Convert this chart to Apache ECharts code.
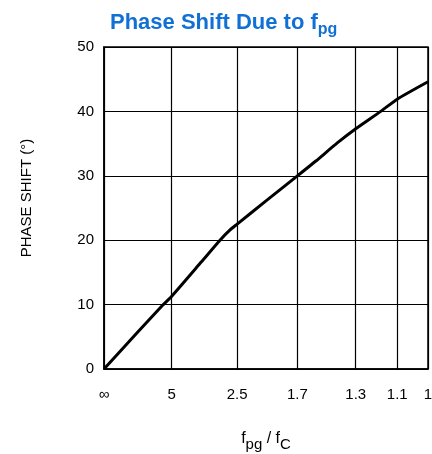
<!DOCTYPE html>
<html><head><meta charset="utf-8">
<script src="https://cdn.jsdelivr.net/npm/echarts@6/dist/echarts.min.js"></script>
<style>html,body{margin:0;padding:0;background:#fff}#c{width:432px;height:454px}</style>
</head><body><div id="c"></div>
<script>
// fC/fpg ratio positions of the x ticks (as drawn) and their printed labels (fpg/fC)
const tickPositions = [0, 0.209, 0.411, 0.597, 0.777, 0.905, 1];
const tickLabels = ['∞', '5', '2.5', '1.7', '1.3', '1.1', '1'];
// curve (x = position on the fC/fpg scale, y = phase shift in degrees)
const curveX = [0, 0.1, 0.183, 0.209, 0.3, 0.358, 0.389, 0.411, 0.5, 0.597, 0.654, 0.72, 0.777, 0.854, 0.905, 1];
const curveY = [0, 5.5, 10, 11.3, 16.6, 20, 21.6, 22.5, 26.1, 30, 32.3, 35.1, 37.3, 40, 41.9, 44.6];

const chart = echarts.init(document.getElementById('c'));
const font = 'Liberation Sans, Arial, sans-serif';
chart.setOption({
  animation: false,
  title: {
    text: '{t|Phase Shift Due to f}{s|pg}',
    left: 105, top: 3,
    textStyle: {
      rich: {
        t: {fontSize: 22, fontWeight: 'bold', color: '#1170d4', fontFamily: font},
        s: {fontSize: 16, fontWeight: 'bold', color: '#1170d4', fontFamily: font, verticalAlign: 'bottom', padding: [14, 0, 0, 0]}
      }
    }
  },
  grid: {left: 104, right: 4, top: 47, bottom: 85, outerBoundsMode: 'none', containLabel: false, show: true, borderColor: '#000', borderWidth: 1.5, backgroundColor: '#fff'},
  xAxis: {
    type: 'value', min: 0, max: 1,
    axisLine: {show: true, lineStyle: {color: '#000', width: 1.5}},
    axisTick: {show: false, customValues: tickPositions},
    splitLine: {show: true, lineStyle: {color: '#000', width: 1.2}},
    axisLabel: {
      customValues: tickPositions, margin: 18,
      color: '#000', fontSize: 15, fontFamily: font,
      formatter: function (v) {
        let best = 0;
        tickPositions.forEach((p, i) => { if (Math.abs(p - v) < Math.abs(tickPositions[best] - v)) best = i; });
        return tickLabels[best];
      }
    },
    name: '{f|f}{s|pg}{f| / f}{s|C}', nameLocation: 'middle', nameGap: 56,
    nameTextStyle: {
      rich: {
        f: {fontSize: 16, color: '#000', fontFamily: font},
        s: {fontSize: 15, color: '#000', fontFamily: font, verticalAlign: 'bottom', padding: [12, 0, 0, 0]}
      }
    }
  },
  yAxis: {
    type: 'value', min: 0, max: 50, interval: 10,
    axisLine: {show: true, lineStyle: {color: '#000', width: 1.5}},
    axisTick: {show: false},
    splitLine: {show: true, lineStyle: {color: '#000', width: 1.2}},
    axisLabel: {color: '#000', fontSize: 15, fontFamily: font, margin: 10},
    name: 'PHASE SHIFT (°)', nameLocation: 'middle', nameGap: 70, nameRotate: 90,
    nameTextStyle: {color: '#000', fontSize: 15, fontFamily: font, padding: [0, 0, 0, 20]}
  },
  series: [{
    type: 'line', smooth: 0.2, symbol: 'none',
    lineStyle: {color: '#000', width: 3},
    data: curveX.map((x, i) => [x, curveY[i]])
  }]
});
</script></body></html>
